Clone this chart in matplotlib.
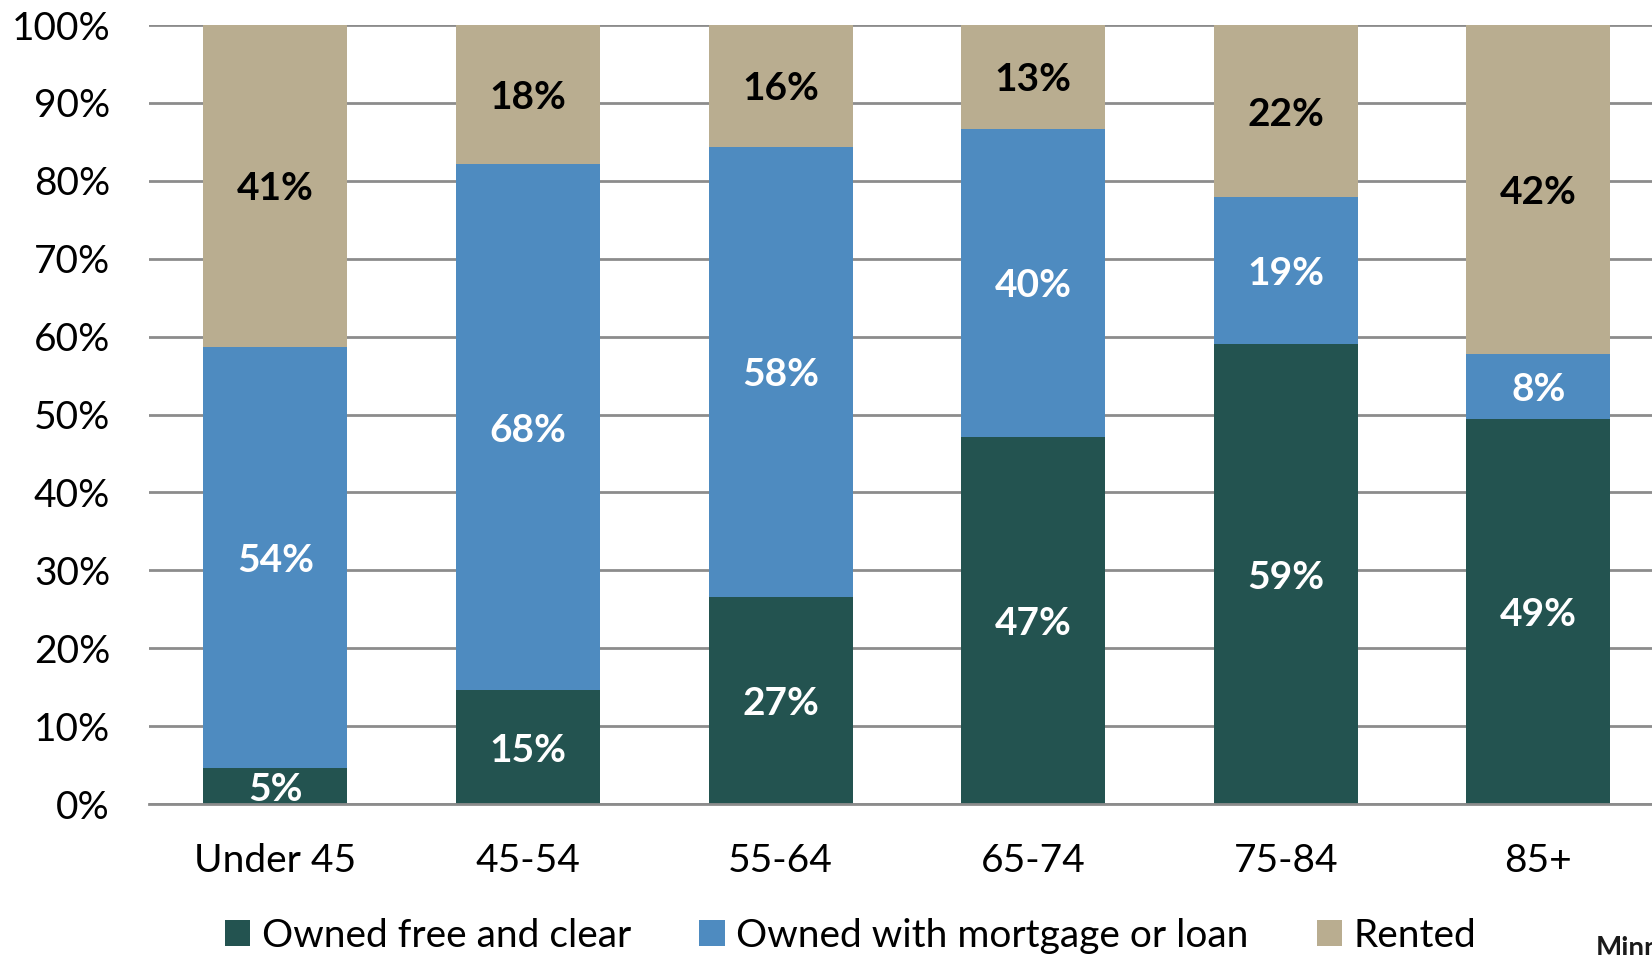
import numpy as np
import matplotlib
matplotlib.use('Agg')
import matplotlib.pyplot as plt

plt.rcParams['font.family'] = ['Lato', 'DejaVu Sans']

# Data (percent of households)
age_groups = ['Under 45', '45-54', '55-64', '65-74', '75-84', '85+']
owned_free = [4.6, 14.6, 26.6, 47.1, 59.0, 49.4]
owned_mortgage = [54.1, 67.5, 57.8, 39.6, 18.9, 8.4]
rented = [41.3, 17.9, 15.6, 13.3, 22.1, 42.2]
y_ticks = [0, 10, 20, 30, 40, 50, 60, 70, 80, 90, 100]

series = [
    ('Owned free and clear', owned_free, '#235350', 'white'),
    ('Owned with mortgage or loan', owned_mortgage, '#4E8BC0', 'white'),
    ('Rented', rented, '#B9AD90', 'black'),
]

fig = plt.figure(figsize=(16.52, 9.55), dpi=100)
ax = fig.add_axes([0.0902, 0.1581, 0.9098, 0.8157])

x = np.arange(len(age_groups))
bottom = np.zeros(len(age_groups))
for name, vals, color, txt_color in series:
    vals = np.array(vals)
    ax.bar(x, vals, width=0.57, bottom=bottom, color=color, label=name, zorder=3)
    for xi, b, v in zip(x, bottom, vals):
        ax.text(xi, b + v / 2, f'{v:.0f}%', ha='center', va='center_baseline',
                fontsize=28, fontweight='bold', color=txt_color, zorder=4)
    bottom += vals

ax.set_xlim(-0.5, 5.45)
ax.set_ylim(0, 100)
ax.set_yticks(y_ticks)
ax.set_yticklabels([f'{t}%' for t in y_ticks])
ax.set_xticks(x)
ax.set_xticklabels(age_groups)
ax.tick_params(axis='both', length=0, labelsize=28)
ax.tick_params(axis='y', pad=28)
ax.tick_params(axis='x', pad=28)
ax.yaxis.grid(True, color='#8C8C8C', linewidth=2, zorder=0)
for s in ['top', 'right', 'left']:
    ax.spines[s].set_visible(False)
ax.spines['bottom'].set_color('#8C8C8C')
ax.spines['bottom'].set_linewidth(2)
ax.spines['bottom'].set_zorder(5)

fig.legend(loc='center', bbox_to_anchor=(0.515, 0.02), ncol=3, frameon=False,
           fontsize=28, handlelength=0.65, handleheight=0.65, handletextpad=0.3,
           columnspacing=1.75)

# source note, cut off at the right edge as in the original
fig.text(0.966, -0.002, 'Minn', fontsize=20, fontweight='bold', color='#1a1a1a')

fig.savefig('out.png', dpi=100)
